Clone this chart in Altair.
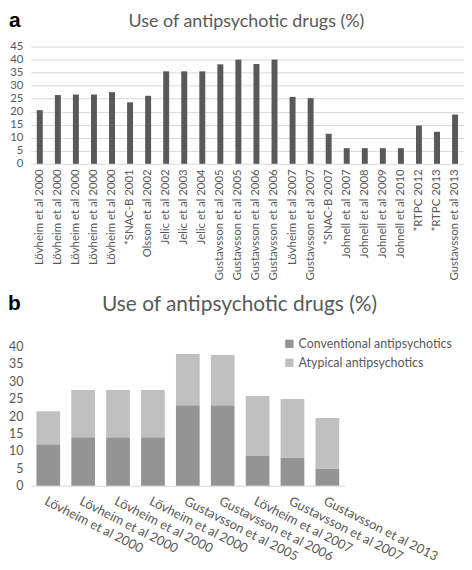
import altair as alt
import pandas as pd

# ---- data panel a ----
a_labels = ["Lövheim et al 2000", "Lövheim et al 2000", "Lövheim et al 2000", "Lövheim et al 2000",
            "Lövheim et al 2000", "*SNAC-B 2001", "Olsson et al 2002", "Jelic et al 2002",
            "Jelic et al 2003", "Jelic et al 2004", "Gustavsson et al 2005", "Gustavsson et al 2005",
            "Gustavsson et al 2006", "Gustavsson et al 2006", "Lövheim et al 2007", "Gustavsson et al 2007",
            "*SNAC-B 2007", "Johnell et al 2007", "Johnell et al 2008", "Johnell et al 2009",
            "Johnell et al 2010", "*RTPC 2012", "*RTPC 2013", "Gustavsson et al 2013"]
a_values = [20.6, 26.4, 26.6, 26.6, 27.5, 23.6, 26.1, 35.5, 35.5, 35.5, 38.2, 40.0,
            38.3, 40.0, 25.7, 25.2, 11.5, 6.0, 6.0, 6.0, 6.0, 14.7, 12.3, 18.9]

# ---- data panel b ----
b_labels = ["Lövheim et al 2000", "Lövheim et al 2000", "Lövheim et al 2000", "Lövheim et al 2000",
            "Gustavsson et al 2005", "Gustavsson et al 2006", "Lövheim et al 2007",
            "Gustavsson et al 2007", "Gustavsson et al 2013"]
b_conventional = [11.9, 13.9, 13.9, 13.9, 23.1, 23.1, 8.7, 8.1, 4.9]
b_atypical = [9.5, 13.6, 13.6, 13.6, 14.8, 14.5, 17.1, 16.8, 14.6]
series = ["Conventional antipsychotics", "Atypical antipsychotics"]

title_text = "Use of antipsychotic drugs (%)"

FONT = "Lato"
GREY_TXT = "#595959"

df_a = pd.DataFrame({
    "key": [f"{i:02d}|{l}" for i, l in enumerate(a_labels)],
    "value": a_values,
})

rows = []
for i, l in enumerate(b_labels):
    rows.append({"key": f"{i:02d}|{l}", "series": series[0], "value": b_conventional[i], "ord": 0})
    rows.append({"key": f"{i:02d}|{l}", "series": series[1], "value": b_atypical[i], "ord": 1})
df_b = pd.DataFrame(rows)


def text_layer(txt, x, y, font, size, weight, color, baseline):
    return alt.Chart(pd.DataFrame({"t": [txt]})).mark_text(
        font=font, fontSize=size, fontWeight=weight, color=color, align="left" if weight == "bold" else "center",
        baseline=baseline
    ).encode(text="t:N", x=alt.value(x), y=alt.value(y))


bars_a = alt.Chart(df_a).mark_bar(color="#595959").encode(
    x=alt.X("key:N", sort=None, title=None,
            scale=alt.Scale(paddingInner=0.67, paddingOuter=0.33),
            axis=alt.Axis(labelExpr="split(datum.value, '|')[1]", labelAngle=-90,
                          labelFont=FONT, labelFontSize=11.5, labelColor=GREY_TXT,
                          ticks=False, domain=False, labelPadding=5)),
    y=alt.Y("value:Q", title=None,
            scale=alt.Scale(domain=[0, 45]),
            axis=alt.Axis(values=list(range(0, 46, 5)), labelFont=FONT, labelFontSize=11.5,
                          labelColor=GREY_TXT, ticks=False, domain=False, labelPadding=8,
                          gridColor="#d9d9d9", gridWidth=1)),
)
letter_a = text_layer("a", -22, -37, "Liberation Sans", 21, "bold", "black", "top")
title_a = text_layer(title_text, 217, -25, FONT, 18, "normal", GREY_TXT, "middle")

chart_a = alt.layer(bars_a, letter_a, title_a).properties(width=436, height=118)

bars_b = alt.Chart(df_b).mark_bar().encode(
    x=alt.X("key:N", sort=None, title=None,
            scale=alt.Scale(paddingInner=0.32, paddingOuter=0.16),
            axis=alt.Axis(labelExpr="split(datum.value, '|')[1]", labelAngle=27, labelAlign="left",
                          labelBaseline="top",
                          labelFont=FONT, labelFontSize=13, labelColor=GREY_TXT,
                          ticks=False, domain=True, domainColor="#d9d9d9", labelPadding=9)),
    y=alt.Y("value:Q", title=None, stack="zero",
            scale=alt.Scale(domain=[0, 40]),
            axis=alt.Axis(values=list(range(0, 41, 5)), labelFont=FONT, labelFontSize=12.5,
                          labelColor=GREY_TXT, ticks=False, domain=False, grid=False, labelPadding=8)),
    color=alt.Color("series:N", scale=alt.Scale(domain=series, range=["#949494", "#c0c0c0"]),
                    legend=alt.Legend(title=None, orient="none", legendX=254, legendY=-9,
                                      symbolType="square", symbolSize=70, symbolStrokeWidth=0,
                                      labelFont=FONT, labelFontSize=12.5, labelColor=GREY_TXT,
                                      labelOffset=3, rowPadding=6)),
    order=alt.Order("ord:Q"),
)
letter_b = text_layer("b", -23, -54, "Liberation Sans", 21, "bold", "black", "top")
title_b = text_layer(title_text, 210, -42, FONT, 21, "normal", GREY_TXT, "middle")

chart_b = alt.layer(bars_b, letter_b, title_b).properties(width=316, height=140)

chart = (alt.vconcat(chart_a, chart_b, spacing=12)
         .resolve_scale(color="independent")
         .resolve_legend(color="independent")
         .properties(padding=0)
         .configure_view(stroke=None))

chart.save("out.html", embed_options={"renderer": "svg", "actions": False})
